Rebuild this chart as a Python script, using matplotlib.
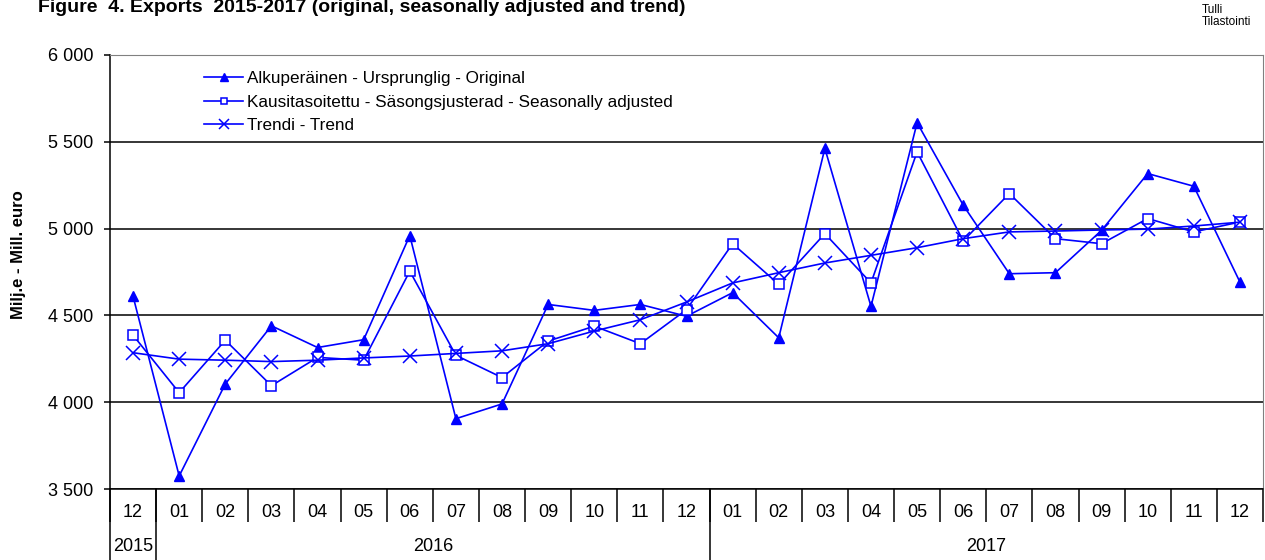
import numpy as np
import matplotlib
matplotlib.use('Agg')
import matplotlib.pyplot as plt
import matplotlib.transforms as mtransforms
from matplotlib.ticker import FuncFormatter

plt.rcParams['font.family'] = ['Liberation Sans', 'DejaVu Sans']

# Data (Milj. euro), 12/2015 - 12/2017
months = ['12', '01', '02', '03', '04', '05', '06', '07', '08', '09', '10', '11', '12',
          '01', '02', '03', '04', '05', '06', '07', '08', '09', '10', '11', '12']
years = ['2015', '2016', '2017']
year_start = [0, 1, 13]
year_end = [0, 12, 24]

original = [4610, 3575, 4105, 4440, 4315, 4360, 4960, 3905, 3990, 4563, 4529, 4563, 4495,
            4631, 4371, 5462, 4552, 5610, 5135, 4740, 4746, 4990, 5317, 5244, 4692]
seasonal = [4386, 4055, 4357, 4095, 4258, 4242, 4755, 4270, 4142, 4352, 4438, 4337, 4533,
            4913, 4679, 4971, 4687, 5442, 4929, 5202, 4942, 4913, 5058, 4981, 5038]
trend = [4285, 4248, 4242, 4234, 4242, 4255, 4266, 4281, 4296, 4337, 4410, 4475, 4577,
         4687, 4746, 4802, 4846, 4890, 4942, 4981, 4986, 4992, 4997, 5015, 5037]

labels = ['Alkuperäinen - Ursprunglig - Original',
          'Kausitasoitettu - Säsongsjusterad - Seasonally adjusted',
          'Trendi - Trend']

blue = '#0000FF'
x = np.arange(len(months))

fig = plt.figure(figsize=(12.65, 5.6), dpi=100)
ax = fig.add_axes([110 / 1265, 1 - 489 / 560, 1153 / 1265, 434 / 560])

ax.plot(x, original, color=blue, lw=1.2, marker='^', ms=7.5, mfc=blue, mec=blue, label=labels[0])
ax.plot(x, seasonal, color=blue, lw=1.2, marker='s', ms=7, mfc='white', mec=blue, mew=1.1, label=labels[1])
ax.plot(x, trend, color=blue, lw=1.2, marker='x', ms=9.5, mec=blue, mew=1.1, label=labels[2])

ax.set_xlim(-0.5, len(months) - 0.5)
ax.set_ylim(3500, 6000)
ax.set_yticks(np.arange(3500, 6001, 500))
ax.yaxis.set_major_formatter(FuncFormatter(lambda v, p: f'{int(v):,}'.replace(',', ' ')))
ax.yaxis.grid(True, color='black', lw=1.1)
ax.set_axisbelow(True)
ax.tick_params(axis='y', length=4, width=1.1, pad=8, labelsize=13, direction='out')

# month labels, separators as minor ticks
ax.set_xticks(x)
ax.set_xticklabels(months, fontsize=13)
ax.tick_params(axis='x', which='major', length=0, pad=11)
ax.set_xticks(np.arange(-0.5, len(months) - 0.4, 1), minor=True)
ax.tick_params(axis='x', which='minor', length=24, width=1.1, direction='out')

for side in ['top', 'right']:
    ax.spines[side].set_color('#808080')
ax.spines['left'].set_linewidth(1.1)
ax.spines['bottom'].set_linewidth(1.1)

# year labels and longer separators
trans = mtransforms.blended_transform_factory(ax.transData, ax.transAxes)
for yr, s, e in zip(years, year_start, year_end):
    ax.text((s + e) / 2, -0.133, yr, transform=trans, ha='center', va='center', fontsize=13)
for b in [-0.5, 0.5, 12.5]:
    ax.plot([b, b], [0, -0.17], transform=trans, color='black', lw=1.1, clip_on=False)

ax.set_ylabel('Milj.e - Mill. euro', fontsize=12, fontweight='bold')
ax.yaxis.set_label_coords(-0.073, 0.54)

ax.legend(loc='upper left', bbox_to_anchor=(0.0755, 0.978), frameon=False, fontsize=12.3,
          handlelength=2.3, handletextpad=0.2, labelspacing=0.5, borderaxespad=0,
          markerscale=0.7)

fig.text(38 / 1265, 1 - 12 / 560, 'Figure  4. Exports  2015-2017 (original, seasonally adjusted and trend)',
         fontsize=14, fontweight='bold', va='baseline')
fig.text(1202 / 1265, 1 - 4 / 560, 'Tulli\nTilastointi', fontsize=8.5, va='top', linespacing=0.95)

fig.savefig('out.png', dpi=100)
